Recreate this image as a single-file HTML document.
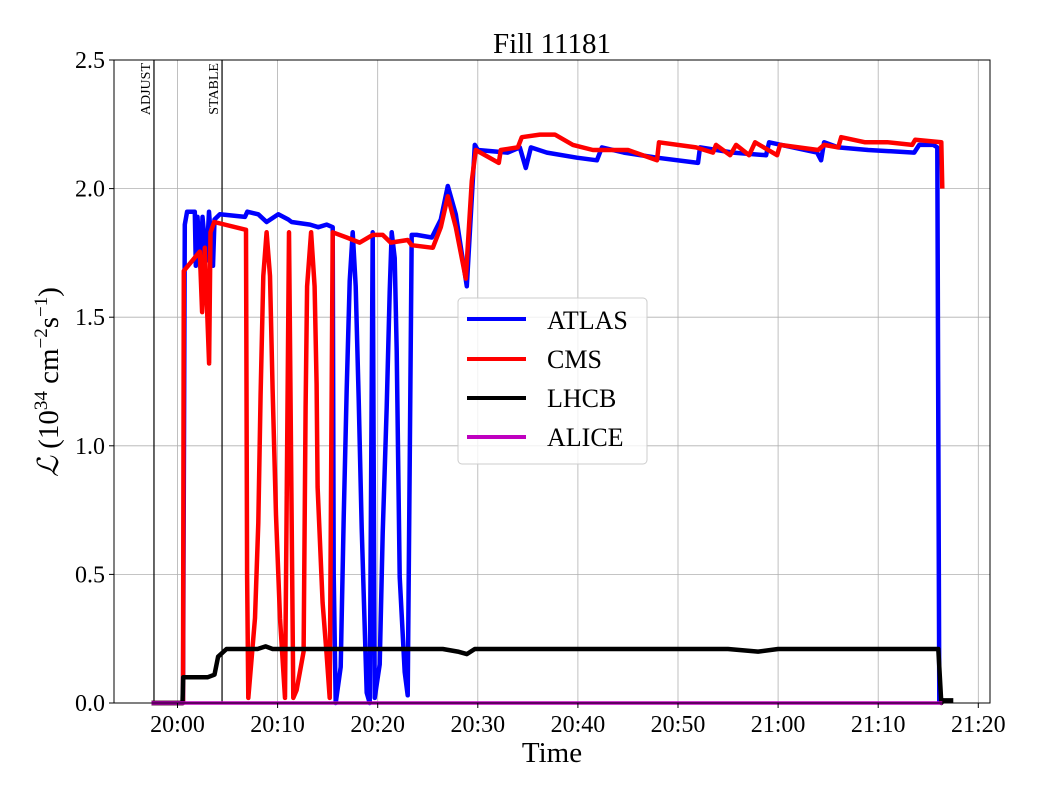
<!DOCTYPE html>
<html><head><meta charset="utf-8"><style>
body{margin:0;background:#fff;}
svg text{font-family:"Liberation Serif","DejaVu Serif",serif;fill:#000;}
</style></head><body>
<svg id="chart" width="1040" height="800" xmlns="http://www.w3.org/2000/svg">
<g id="grid"></g>
<g id="marks"></g>
<g id="axes"></g>
</svg>
<script>
// minutes relative to 20:00
const atlasT=[-2.6,0.55,0.73,0.96,1.73,1.83,2.0,2.3,2.5,2.9,3.15,3.55,3.7,4.24,6.74,6.97,8.07,8.9,10.07,11.07,11.4,13.24,14.07,14.9,15.5,15.6,15.8,16.3,16.6,16.9,17.2,17.5,17.8,18.1,18.4,18.9,19.2,19.5,19.7,20.2,20.5,20.9,21.2,21.4,21.7,21.9,22.2,22.7,23.0,23.4,23.9,25.4,26.3,27.0,27.8,28.9,29.7,30.0,33.0,34.2,34.8,35.3,36.9,39.9,41.9,42.4,44.6,47.9,52.0,52.2,55.5,58.8,59.1,61.5,63.9,64.3,64.6,66.0,69.0,73.6,74.1,75.5,75.9,76.1];
const atlasV=[0,0,1.86,1.91,1.91,1.7,1.89,1.69,1.89,1.72,1.91,1.7,1.88,1.9,1.89,1.91,1.9,1.87,1.9,1.88,1.87,1.86,1.85,1.86,1.85,0.5,0,0.14,0.72,1.22,1.64,1.83,1.62,1.18,0.68,0.04,0,1.83,0.02,0.15,0.66,1.15,1.6,1.83,1.73,1.37,0.49,0.12,0.03,1.82,1.82,1.81,1.88,2.01,1.9,1.62,2.17,2.15,2.14,2.16,2.08,2.16,2.14,2.12,2.11,2.16,2.14,2.12,2.10,2.16,2.14,2.13,2.18,2.16,2.14,2.11,2.18,2.16,2.15,2.14,2.17,2.17,2.16,0];
const cmsT=[-2.6,0.55,0.63,2.23,2.46,2.73,3.16,3.3,3.67,6.84,6.95,7.07,7.74,8.07,8.3,8.57,8.9,9.24,9.5,9.84,10.24,10.74,11.14,11.57,11.9,12.6,12.7,12.8,12.95,13.35,13.7,13.9,14.0,14.5,14.9,15.2,15.5,16.9,18.2,19.5,20.5,21.3,23.0,23.4,25.5,26.3,27.0,27.8,28.8,29.4,29.8,32.1,32.3,34.0,34.4,36.2,37.7,39.5,41.5,45.0,47.9,48.1,51.8,53.5,53.8,55.2,55.8,57.1,57.7,59.9,60.2,64.0,64.6,66.0,66.3,68.7,71.0,73.4,73.7,76.3,76.4];
const cmsV=[0,0,1.68,1.755,1.52,1.77,1.32,1.83,1.87,1.84,0.5,0.02,0.33,0.70,1.2,1.66,1.83,1.66,1.22,0.73,0.33,0.02,1.83,0.02,0.05,0.2,0.67,1.15,1.62,1.83,1.62,1.24,0.84,0.39,0.19,0.02,1.83,1.81,1.79,1.82,1.82,1.79,1.8,1.78,1.77,1.85,1.97,1.85,1.65,2.03,2.15,2.10,2.15,2.16,2.20,2.21,2.21,2.17,2.15,2.15,2.11,2.18,2.16,2.14,2.17,2.13,2.17,2.13,2.18,2.13,2.17,2.15,2.17,2.16,2.20,2.18,2.18,2.17,2.19,2.18,2.0];
const lhcbT=[-2.6,0.5,0.57,2.5,3.0,3.7,4.06,4.9,6.0,8.0,8.8,9.5,12.0,15.0,20.0,24.0,26.5,28.0,28.9,29.7,35,45,50,55,58,60,65,70,76.0,76.3,76.5,77.5];
const lhcbV=[0,0,0.1,0.1,0.1,0.11,0.18,0.21,0.21,0.21,0.22,0.21,0.21,0.21,0.21,0.21,0.21,0.2,0.19,0.21,0.21,0.21,0.21,0.21,0.2,0.21,0.21,0.21,0.21,0,0.01,0.01];
const aliceT=[-2.6,76.4];
const aliceV=[0,0];
const yTicks=[0,0.5,1.0,1.5,2.0,2.5];
const yTickLabels=["0.0","0.5","1.0","1.5","2.0","2.5"];
const xTicks=[0,10,20,30,40,50,60,70,80];
const xTickLabels=["20:00","20:10","20:20","20:30","20:40","20:50","21:00","21:10","21:20"];
const events=[-2.35,4.45];
const eventLabels=["ADJUST","STABLE"];

const L=114,R=990,T=60,B=703;
const xs=t=>177.5+t*10.01;
const ys=v=>B-(v/2.5)*(B-T);
const NS="http://www.w3.org/2000/svg";
function mk(tag,attrs,parent,txt){const e=document.createElementNS(NS,tag);for(const k in attrs)e.setAttribute(k,attrs[k]);if(txt!==undefined)e.textContent=txt;parent.appendChild(e);return e;}
const grid=document.getElementById('grid'),marks=document.getElementById('marks'),axes=document.getElementById('axes');
xTicks.forEach((t,i)=>{
  const g=mk('line',{x1:xs(t),x2:xs(t),y1:T,y2:B,stroke:'#b0b0b0','stroke-width':0.8},grid);
  
  
  mk('line',{x1:xs(t),x2:xs(t),y1:B,y2:B+5,stroke:'#000','stroke-width':1},axes);
  const tx=mk('text',{x:xs(t),y:B+29,'text-anchor':'middle','font-size':24},axes,xTickLabels[i]);
  
  
});
yTicks.forEach((v,i)=>{
  const g=mk('line',{x1:L,x2:R,y1:ys(v),y2:ys(v),stroke:'#b0b0b0','stroke-width':0.8},grid);
  
  
  mk('line',{x1:L-5,x2:L,y1:ys(v),y2:ys(v),stroke:'#000','stroke-width':1},axes);
  const tx=mk('text',{x:L-9,y:ys(v)+8,'text-anchor':'end','font-size':24},axes,yTickLabels[i]);
  
  
});
events.forEach((t,i)=>{
  const l=mk('line',{x1:xs(t),x2:xs(t),y1:T,y2:B,stroke:'#000','stroke-width':1.2},marks);
  
  
  const tx=mk('text',{x:0,y:0,'font-size':14,transform:`translate(${xs(t)-4},${T+3}) rotate(-90)`,'text-anchor':'end'},marks,eventLabels[i]);
  
  
});
function series(T_,V_,color,w,name){
  const p=mk('polyline',{points:T_.map((t,i)=>xs(t).toFixed(1)+','+ys(V_[i]).toFixed(1)).join(' '),fill:'none',stroke:color,'stroke-width':w,'stroke-linejoin':'round'},marks);
  
  
}
series(atlasT,atlasV,'#0000ff',4.5,'atlas-line');
series(cmsT,cmsV,'#ff0000',4.5,'cms-line');
series(lhcbT,lhcbV,'#000000',4.5,'lhcb-line');
series(aliceT,aliceV,'#bf00bf',3.5,'alice-line');
mk('rect',{x:L,y:T,width:R-L,height:B-T,fill:'none',stroke:'#000','stroke-width':1},axes);
</script>
<svg style="position:absolute;left:0;top:0" width="1040" height="800" xmlns="http://www.w3.org/2000/svg">
<text x="552" y="53" text-anchor="middle" font-size="29">Fill 11181</text>
<text x="552" y="762" text-anchor="middle" font-size="29">Time</text>
<text transform="translate(58,382) rotate(-90)" text-anchor="middle" font-size="29"><tspan font-style="italic">ℒ</tspan> (10<tspan dy="-11" font-size="19">34</tspan><tspan dy="11"> cm</tspan><tspan dy="-11" font-size="19">−2</tspan><tspan dy="11">s</tspan><tspan dy="-11" font-size="19">−1</tspan><tspan dy="11">)</tspan></text>
<g>
<rect x="458" y="298" width="189" height="166" rx="4" fill="#fff" fill-opacity="0.8" stroke="#ccc" stroke-width="1"/>
<g><line x1="467" x2="526" y1="319" y2="319" stroke="#0000ff" stroke-width="4"/><text x="547" y="329" font-size="26">ATLAS</text></g>
<g><line x1="467" x2="526" y1="359" y2="359" stroke="#ff0000" stroke-width="4"/><text x="547" y="368" font-size="26">CMS</text></g>
<g><line x1="467" x2="526" y1="398" y2="398" stroke="#000" stroke-width="4"/><text x="547" y="407" font-size="26">LHCB</text></g>
<g><line x1="467" x2="526" y1="437" y2="437" stroke="#bf00bf" stroke-width="4"/><text x="547" y="446" font-size="26">ALICE</text></g>
</g>
</svg>
</body></html>
